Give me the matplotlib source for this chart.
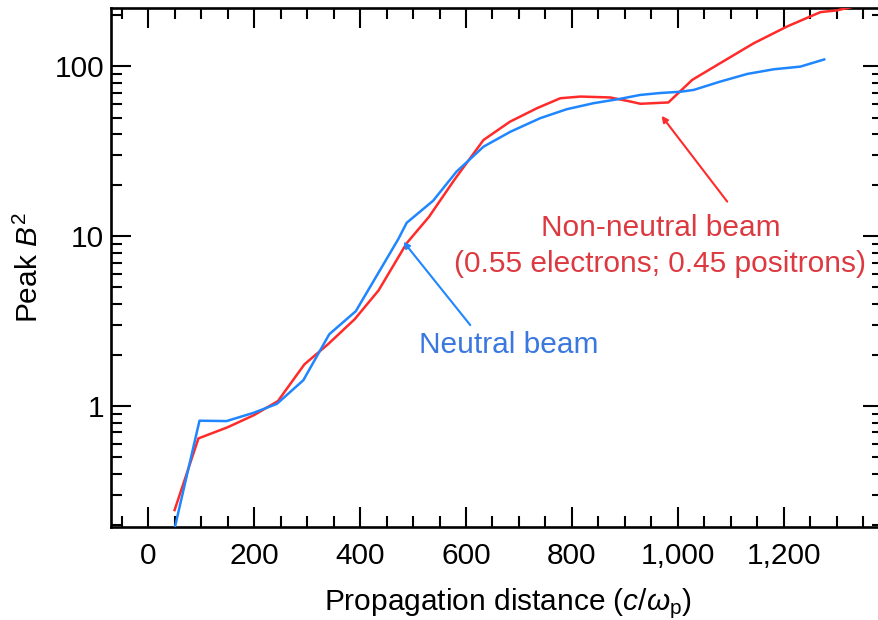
import numpy as np
import matplotlib
matplotlib.use("Agg")
import matplotlib.pyplot as plt
from matplotlib.ticker import MultipleLocator, FuncFormatter, LogLocator, NullFormatter, FixedLocator

plt.rcParams['font.family'] = ['Liberation Sans', 'DejaVu Sans']
plt.rcParams['mathtext.fontset'] = 'custom'
plt.rcParams['mathtext.rm'] = 'Liberation Sans'
plt.rcParams['mathtext.it'] = 'Liberation Sans:italic'

# Data
neutral_x = [50, 97, 148, 198, 243, 293, 342, 392, 472, 488, 538, 582, 633, 684, 740,
             790, 841, 891, 929, 967, 1005, 1030, 1080, 1131, 1181, 1231, 1276]
neutral_y = [0.19, 0.82, 0.816, 0.91, 1.03, 1.42, 2.65, 3.62, 9.6, 12.0, 16.2, 24.0, 33.7, 41.3, 49.6,
             56.0, 60.8, 64.5, 68.0, 69.8, 71.0, 72.8, 81.5, 90.4, 96.3, 99.8, 110.0]

nonneutral_x = [50, 95, 150, 200, 245, 295, 340, 390, 435, 488, 530, 578, 633, 683, 734,
                778, 816, 872, 910, 929, 982, 1027, 1080, 1143, 1206, 1269, 1300, 1350]
nonneutral_y = [0.244, 0.645, 0.75, 0.885, 1.07, 1.76, 2.32, 3.25, 4.8, 9.1, 13.0, 21.5, 36.9, 47.3, 56.8,
                65.0, 66.5, 65.7, 62.2, 60.3, 61.4, 83.4, 104.7, 137.0, 172.0, 209.0, 214.0, 232.0]

x_major = [0, 200, 400, 600, 800, 1000, 1200]
y_major = [1, 10, 100]

red_line = '#ff2b2b'
blue_line = '#1f86ff'
red_text = '#dc3a40'
blue_text = '#3a78e0'

fig = plt.figure(figsize=(8.79, 6.20), dpi=100)
W, H = 879, 620
left, right, top, bottom = 111, 883, 8, 527
ax = fig.add_axes([left / W, 1 - bottom / H, (right - left) / W, (bottom - top) / H])

ax.plot(nonneutral_x, nonneutral_y, color=red_line, lw=1.8, zorder=3)
ax.plot(neutral_x, neutral_y, color=blue_line, lw=1.8, zorder=3)

ax.set_yscale('log')
ax.set_xlim(-70, 1387)
ax.set_ylim(0.194, 221)

ax.xaxis.set_major_locator(FixedLocator(x_major))
ax.xaxis.set_minor_locator(MultipleLocator(50))
ax.xaxis.set_major_formatter(FuncFormatter(lambda v, p: f"{int(round(v)):,}"))
ax.yaxis.set_major_locator(FixedLocator(y_major))
ax.yaxis.set_minor_locator(LogLocator(base=10, subs=np.arange(2, 10)))
ax.yaxis.set_major_formatter(FuncFormatter(lambda v, p: f"{v:g}"))
ax.yaxis.set_minor_formatter(NullFormatter())

for s in ax.spines.values():
    s.set_linewidth(1.9)

ax.tick_params(which='both', direction='in', top=True, right=True, width=1.5, colors='black')
ax.tick_params(which='major', length=14.5, labelsize=21.5)
ax.tick_params(which='minor', length=8)
ax.tick_params(axis='x', which='major', pad=11)
ax.tick_params(axis='y', which='major', pad=5)

ax.set_xlabel(r'Propagation distance ($c$/$\omega_{\mathrm{p}}$)', fontsize=21.5)
ax.xaxis.set_label_coords(0.514, -0.115)
ax.set_ylabel(r'Peak $B^2$', fontsize=21.5)
ax.yaxis.set_label_coords(-0.087, 0.5)

# Annotations
ax.annotate('', xy=(969, 51.2), xytext=(1093, 16.0),
            arrowprops=dict(arrowstyle='-|>', color=red_line, lw=1.5, mutation_scale=9,
                            shrinkA=0, shrinkB=0))
ax.text(967, 13.6, 'Non-neutral beam\n(0.55 electrons; 0.45 positrons)', color=red_text,
        fontsize=21.5, ha='center', va='top', linespacing=1.38)

ax.annotate('', xy=(482, 9.29), xytext=(608, 3.0),
            arrowprops=dict(arrowstyle='-|>', color=blue_line, lw=1.5, mutation_scale=9,
                            shrinkA=0, shrinkB=0))
ax.text(681, 2.3, 'Neutral beam', color=blue_text, fontsize=21.5, ha='center', va='center')

fig.savefig('out.png', dpi=100)
